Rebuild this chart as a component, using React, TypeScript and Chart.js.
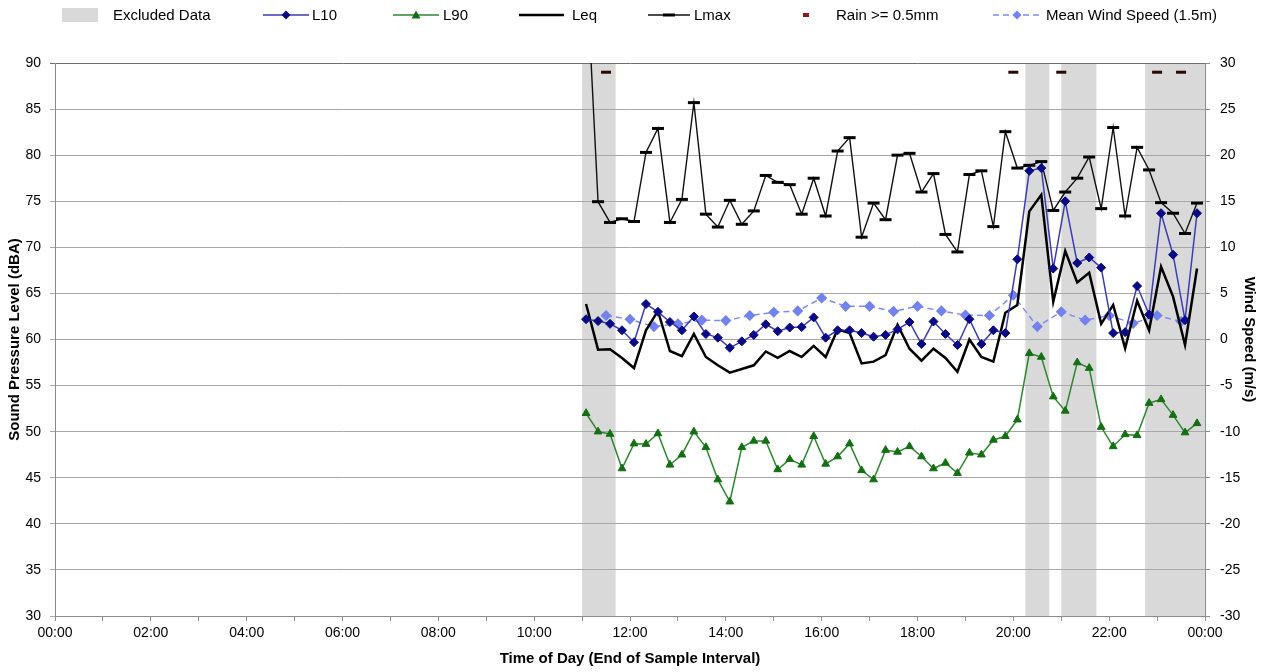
import React, { useEffect, useRef } from "react";
import { Chart, registerables } from "chart.js";
Chart.register(...registerables);

const FONT = '"Liberation Sans", Arial, sans-serif';

// Sample end times (15-minute intervals)
const TIMES = [
  "11:05", "11:20", "11:35", "11:50", "12:05", "12:20", "12:35", "12:50",
  "13:05", "13:20", "13:35", "13:50", "14:05", "14:20", "14:35", "14:50",
  "15:05", "15:20", "15:35", "15:50", "16:05", "16:20", "16:35", "16:50",
  "17:05", "17:20", "17:35", "17:50", "18:05", "18:20", "18:35", "18:50",
  "19:05", "19:20", "19:35", "19:50", "20:05", "20:20", "20:35", "20:50",
  "21:05", "21:20", "21:35", "21:50", "22:05", "22:20", "22:35", "22:50",
  "23:05", "23:20", "23:35", "23:50",
];

const L10 = [
  62.2, 62.0, 61.7, 61.0, 59.7, 63.85, 63.0, 61.9, 61.0, 62.5,
  60.6, 60.2, 59.1, 59.8, 60.5, 61.65, 60.9, 61.3, 61.35, 62.4,
  60.2, 61.0, 61.0, 60.7, 60.3, 60.5, 61.1, 61.9, 59.5, 61.95,
  60.6, 59.4, 62.2, 59.5, 61.0, 60.7, 68.7, 78.3, 78.6, 67.7,
  75.0, 68.3, 68.9, 67.8, 60.7, 60.8, 65.8, 62.7, 73.7, 69.2,
  62.1, 73.7,
];

const L90 = [
  52.0, 50.0, 49.75, 46.0, 48.7, 48.65, 49.8, 46.4, 47.5, 50.0,
  48.3, 44.8, 42.4, 48.3, 49.0, 49.0, 45.9, 47.0, 46.4, 49.5,
  46.5, 47.3, 48.7, 45.8, 44.8, 48.0, 47.8, 48.4, 47.3, 46.0,
  46.6, 45.5, 47.7, 47.5, 49.1, 49.5, 51.3, 58.5, 58.1, 53.8,
  52.25, 57.5, 56.9, 50.5, 48.4, 49.7, 49.6, 53.1, 53.5, 51.8,
  49.9, 50.9,
];

const LEQ = [
  63.85, 58.9, 58.95, 58.0, 56.9, 61.0, 63.1, 58.75, 58.2, 60.6,
  58.1, 57.2, 56.4, 56.8, 57.2, 58.7, 58.0, 58.75, 58.1, 59.3,
  58.1, 61.1, 60.7, 57.4, 57.6, 58.3, 61.6, 59.0, 57.7, 59.0,
  58.0, 56.5, 60.0, 58.1, 57.6, 62.9, 63.75, 73.9, 75.7, 64.1,
  69.6, 66.2, 67.25, 61.7, 63.75, 59.05, 64.2, 61.0, 67.9, 64.65,
  59.4, 67.7,
];

const LMAX = [
  101, 74.95, 72.7, 73.1, 72.8, 80.3, 82.9, 72.7, 75.2, 85.7,
  73.6, 72.2, 75.1, 72.5, 73.95, 77.8, 77.05, 76.8, 73.6, 77.5,
  73.4, 80.45, 81.9, 71.1, 74.8, 73.0, 80.0, 80.2, 76.0, 78.0,
  71.4, 69.5, 77.9, 78.3, 72.25, 82.55, 78.6, 78.9, 79.3, 74.0,
  76.0, 77.5, 79.8, 74.2, 83.0, 73.4, 80.85, 78.4, 74.85, 73.7,
  71.5, 74.8,
];

// Wind speed (30-minute intervals), m/s
const WIND_TIMES = [
  "11:30", "12:00", "12:30", "13:00", "13:30", "14:00", "14:30", "15:00",
  "15:30", "16:00", "16:30", "17:00", "17:30", "18:00", "18:30", "19:00",
  "19:30", "20:00", "20:30", "21:00", "21:30", "22:00", "22:30", "23:00",
  "23:30",
];
const WIND = [
  2.6, 2.2, 1.4, 1.7, 2.1, 2.05, 2.6, 2.95, 3.1, 4.5, 3.6, 3.6, 3.05,
  3.6, 3.1, 2.65, 2.6, 4.8, 1.4, 3.0, 2.1, 2.6, 1.75, 2.6, 1.95,
];

// Rain >= 0.5mm indicator times, plotted at a fixed level on the wind axis
const RAIN_TIMES = ["11:30", "20:00", "21:00", "23:00", "23:30"];
const RAIN_LEVEL = 29;

// Excluded data periods [start, end]
const EXCLUDED = [
  ["11:00", "11:42"],
  ["20:15", "20:45"],
  ["21:00", "21:44"],
  ["22:45", "24:00"],
];

const toH = (t: string) => {
  const [h, m] = t.split(":").map(Number);
  return h + m / 60;
};

const bandsPlugin = {
  id: "excludedBands",
  beforeDraw(chart: any) {
    const { ctx, chartArea, scales } = chart;
    const x = scales.x;
    ctx.save();
    ctx.fillStyle = "#d9d9d9";
    for (const [a, b] of EXCLUDED) {
      const x1 = x.getPixelForValue(toH(a));
      const x2 = x.getPixelForValue(toH(b));
      ctx.fillRect(x1, chartArea.top, x2 - x1, chartArea.bottom - chartArea.top);
    }
    ctx.restore();
  },
};

const TXT = "#000";

function LegendItem({ left, textLeft, label, children }: any) {
  return (
    <>
      <div style={{ position: "absolute", left, top: 8, height: 14 }}>{children}</div>
      <div
        style={{
          position: "absolute",
          left: textLeft,
          top: 6,
          fontFamily: FONT,
          fontSize: 15,
          lineHeight: "18px",
          color: TXT,
          whiteSpace: "nowrap",
        }}
      >
        {label}
      </div>
    </>
  );
}

export default function App() {
  const ref = useRef<HTMLCanvasElement | null>(null);

  useEffect(() => {
    if (!ref.current) return;
    const xs = TIMES.map(toH);
    const pts = (arr: number[]) => arr.map((v, i) => ({ x: xs[i], y: v }));
    const chart = new Chart(ref.current, {
      type: "line",
      data: {
        datasets: [
          {
            label: "L10",
            data: pts(L10),
            yAxisID: "y",
            borderColor: "#3c3cb4",
            borderWidth: 1.5,
            pointStyle: "rectRot",
            pointRadius: 4.5,
            pointBackgroundColor: "#0a0a84",
            pointBorderColor: "#0a0a84",
            pointBorderWidth: 1,
            tension: 0,
          },
          {
            label: "L90",
            data: pts(L90),
            yAxisID: "y",
            borderColor: "#2e862e",
            borderWidth: 1.5,
            pointStyle: "triangle",
            pointRadius: 4.5,
            pointBackgroundColor: "#146e14",
            pointBorderColor: "#146e14",
            pointBorderWidth: 1,
            tension: 0,
          },
          {
            label: "Leq",
            data: pts(LEQ),
            yAxisID: "y",
            borderColor: "#000",
            borderWidth: 2.5,
            pointRadius: 0,
            tension: 0,
          },
          {
            label: "Lmax",
            data: pts(LMAX),
            yAxisID: "y",
            borderColor: "#111",
            borderWidth: 1.4,
            pointStyle: "line",
            pointRadius: 6,
            pointBorderColor: "#000",
            pointBorderWidth: 3,
            tension: 0,
            clip: { left: 8, right: 8, top: 0, bottom: 8 },
          },
          {
            label: "Rain >= 0.5mm",
            data: RAIN_TIMES.map((t) => ({ x: toH(t), y: RAIN_LEVEL })),
            yAxisID: "y1",
            showLine: false,
            pointStyle: "line",
            pointRadius: 5,
            pointBorderColor: "#2a0606",
            pointBorderWidth: 3,
          },
          {
            label: "Mean Wind Speed (1.5m)",
            data: WIND_TIMES.map((t, i) => ({ x: toH(t), y: WIND[i] })),
            yAxisID: "y1",
            borderColor: "#7e8cf0",
            borderWidth: 1.5,
            borderDash: [6, 4],
            pointStyle: "rectRot",
            pointRadius: 4.5,
            pointBackgroundColor: "#7282ee",
            pointBorderColor: "#7282ee",
            tension: 0,
          },
        ],
      },
      options: {
        responsive: true,
        maintainAspectRatio: false,
        animation: false,
        layout: { padding: { top: 63, left: 0, right: 0, bottom: 0 } },
        plugins: { legend: { display: false }, tooltip: { enabled: false } },
        scales: {
          x: {
            type: "linear",
            min: 0,
            max: 24,
            afterFit: (s: any) => {
              s.height = 56;
            },
            ticks: {
              stepSize: 1,
              autoSkip: false,
              maxRotation: 0,
              padding: 4,
              color: TXT,
              font: { size: 14, family: FONT },
              callback: (v: any) =>
                Number(v) % 2 === 0 ? `${String(Number(v) % 24).padStart(2, "0")}:00` : "",
            },
            grid: { drawOnChartArea: false, drawTicks: true, tickLength: 5, color: "#8c8c8c" },
            border: { color: "#8c8c8c" },
            title: {
              display: true,
              text: "Time of Day (End of Sample Interval)",
              color: TXT,
              font: { size: 15, weight: "bold", family: FONT },
              padding: { top: 0, bottom: 4 },
            },
          },
          y: {
            position: "left",
            min: 30,
            max: 90,
            afterFit: (s: any) => {
              s.width = 55;
            },
            ticks: {
              stepSize: 5,
              padding: 9,
              color: TXT,
              font: { size: 14, family: FONT },
            },
            grid: {
              color: (c: any) => (c.tick && c.tick.value === 90 ? "#6e6e6e" : "#a8a8a8"),
              tickLength: 5,
            },
            border: { color: "#8c8c8c" },
            title: {
              display: true,
              text: "Sound Pressure Level (dBA)",
              color: TXT,
              font: { size: 15, weight: "bold", family: FONT },
              padding: { top: 6, bottom: 0 },
            },
          },
          y1: {
            position: "right",
            min: -30,
            max: 30,
            afterFit: (s: any) => {
              s.width = 59;
            },
            ticks: {
              stepSize: 5,
              padding: 10,
              color: TXT,
              font: { size: 14, family: FONT },
            },
            grid: { drawOnChartArea: false, tickLength: 5, color: "#8c8c8c" },
            border: { color: "#8c8c8c" },
            title: {
              display: true,
              text: "Wind Speed (m/s)",
              color: TXT,
              font: { size: 15, weight: "bold", family: FONT },
              padding: { top: 6, bottom: 0 },
            },
          },
        },
      },
      plugins: [bandsPlugin],
    } as any);
    return () => chart.destroy();
  }, []);

  const diamond = (cx: number, cy: number, r: number) =>
    `${cx},${cy - r} ${cx + r},${cy} ${cx},${cy + r} ${cx - r},${cy}`;

  return (
    <div
      style={{
        position: "absolute",
        left: 0,
        top: 0,
        width: 1264,
        height: 672,
        background: "#fff",
        overflow: "hidden",
      }}
    >
      <div style={{ position: "absolute", left: 0, top: 0, width: 1264, height: 672 }}>
        <canvas ref={ref} />
      </div>
      <LegendItem left={62} textLeft={113} label="Excluded Data">
        <svg width={36} height={14}>
          <rect x={0} y={0} width={36} height={14} fill="#d9d9d9" />
        </svg>
      </LegendItem>
      <LegendItem left={263} textLeft={312} label="L10">
        <svg width={46} height={14}>
          <line x1={0} y1={7} x2={46} y2={7} stroke="#3c3cb4" strokeWidth={1.5} />
          <polygon points={diamond(23, 7, 4.5)} fill="#0a0a84" />
        </svg>
      </LegendItem>
      <LegendItem left={393} textLeft={443} label="L90">
        <svg width={46} height={14}>
          <line x1={0} y1={7} x2={46} y2={7} stroke="#2e862e" strokeWidth={1.5} />
          <polygon points="23,2.5 27.5,10.5 18.5,10.5" fill="#146e14" />
        </svg>
      </LegendItem>
      <LegendItem left={519} textLeft={572} label="Leq">
        <svg width={46} height={14}>
          <line x1={0} y1={7} x2={45} y2={7} stroke="#000" strokeWidth={2.5} />
        </svg>
      </LegendItem>
      <LegendItem left={648} textLeft={694} label="Lmax">
        <svg width={42} height={14}>
          <line x1={0} y1={7} x2={42} y2={7} stroke="#111" strokeWidth={1.4} />
          <line x1={15} y1={7} x2={27} y2={7} stroke="#000" strokeWidth={3} />
        </svg>
      </LegendItem>
      <LegendItem left={803} textLeft={836} label="Rain >= 0.5mm">
        <svg width={8} height={14}>
          <rect x={0} y={5} width={6} height={4} fill="#8b1a1a" />
        </svg>
      </LegendItem>
      <LegendItem left={993} textLeft={1046} label="Mean Wind Speed (1.5m)">
        <svg width={48} height={14}>
          <line x1={0} y1={7} x2={48} y2={7} stroke="#7e8cf0" strokeWidth={1.5} strokeDasharray="6 4" />
          <polygon points={diamond(24, 7, 4.5)} fill="#7282ee" />
        </svg>
      </LegendItem>
    </div>
  );
}
